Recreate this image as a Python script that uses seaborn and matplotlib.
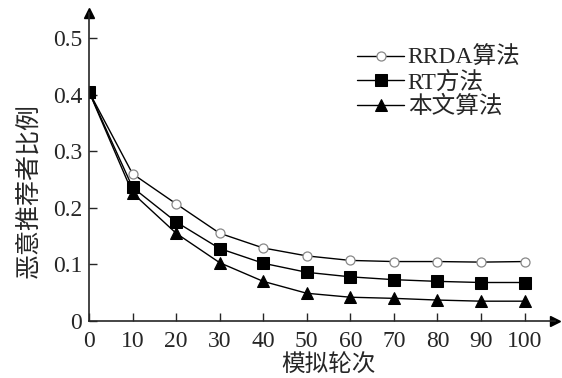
import pandas as pd
import matplotlib.pyplot as plt
import seaborn as sns

rounds = [0, 10, 20, 30, 40, 50, 60, 70, 80, 90, 100]
rrda = [0.405, 0.260, 0.207, 0.155, 0.129, 0.115, 0.107, 0.105, 0.105, 0.104, 0.105]
rt = [0.405, 0.236, 0.175, 0.128, 0.102, 0.086, 0.078, 0.073, 0.070, 0.068, 0.068]
ours = [0.405, 0.226, 0.155, 0.103, 0.070, 0.049, 0.042, 0.040, 0.037, 0.035, 0.035]
names = ['RRDA算法', 'RT方法', '本文算法']

df = pd.DataFrame({'轮次': rounds * 3,
                   '比例': rrda + rt + ours,
                   '方法': [n for n in names for _ in rounds]})

sns.set_style('ticks')
plt.rcParams['font.family'] = ['Liberation Serif', 'Noto Sans CJK SC']
plt.rcParams['font.size'] = 17

fig = plt.figure(figsize=(5.62, 3.78), dpi=100)
ax = fig.add_axes([89 / 562, 1 - 321 / 378, 466 / 562, 308 / 378])

styles = {
    'RRDA算法': dict(marker='o', markersize=6.5, markerfacecolor='white',
                   markeredgecolor='#888888', markeredgewidth=0.9),
    'RT方法': dict(marker='s', markersize=8, markerfacecolor='black',
                 markeredgecolor='black'),
    '本文算法': dict(marker='^', markersize=8.5, markerfacecolor='black',
                 markeredgecolor='black'),
}
for n in names:
    sns.lineplot(data=df[df['方法'] == n], x='轮次', y='比例', ax=ax,
                 color='black', linewidth=1.0, label=n, **styles[n])

ax.set_xlim(0, 107)
ax.set_ylim(0, 0.544)
ax.set_xticks(rounds)
ax.set_yticks([0, 0.1, 0.2, 0.3, 0.4, 0.5])
ax.set_yticklabels(['0', '0.1', '0.2', '0.3', '0.4', '0.5'])
ax.tick_params(direction='in', length=6, width=1, labelsize=17)
ax.tick_params(axis='x', pad=7)
ax.tick_params(axis='y', pad=5)
for s in ['top', 'right']:
    ax.spines[s].set_visible(False)
for s in ['left', 'bottom']:
    ax.spines[s].set_linewidth(1.2)
ax.plot(0, 1, '^k', markersize=7, transform=ax.transAxes, clip_on=False)
ax.plot(1, 0, '>k', markersize=7, transform=ax.transAxes, clip_on=False)

ax.set_xlabel('模拟轮次', fontsize=17)
ax.set_ylabel('恶意推荐者比例', fontsize=18)
ax.xaxis.set_label_coords(0.515, -0.108)
ax.yaxis.set_label_coords(-0.105, 0.425)

ax.legend(loc='upper left', bbox_to_anchor=(0.555, 0.92), frameon=False,
          fontsize=17, handlelength=2.0, handletextpad=0.15, labelspacing=0.1,
          borderaxespad=0)

fig.savefig('out.png', dpi=100)
